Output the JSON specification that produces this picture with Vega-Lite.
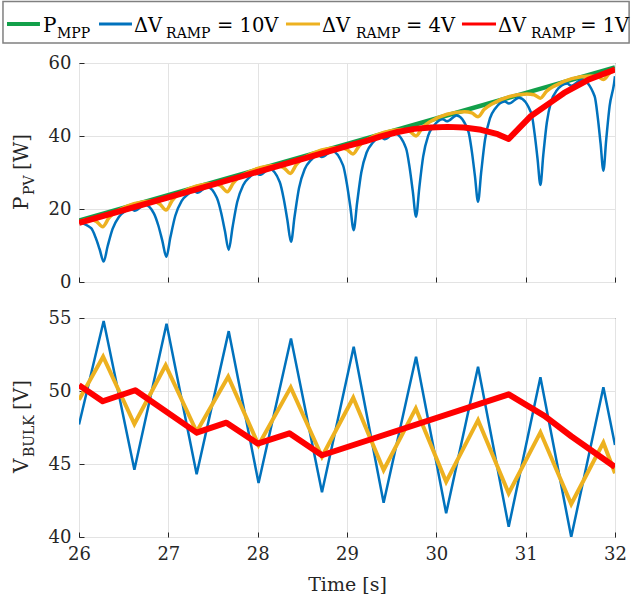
{
  "$schema": "https://vega.github.io/schema/vega-lite/v6.json",
  "padding": {"left": 1, "top": 0, "right": 0, "bottom": 0},
  "background": "white",
  "config": {
    "font": "DejaVu Serif",
    "view": {"stroke": "#262626", "strokeWidth": 1},
    "axis": {
      "labelFont": "DejaVu Serif", "labelFontSize": 18, "labelColor": "#262626",
      "titleFont": "DejaVu Serif", "titleFontSize": 19, "titleFontWeight": "normal", "titleColor": "#262626",
      "gridColor": "#e3e3e3", "gridWidth": 1, "tickColor": "#262626", "tickSize": -5,
      "labelPadding": 13, "domain": false, "labelOverlap": false, "labelFlush": false
    }
  },
  "datasets": {
    "pMpp": [{"t": 26, "v": 16.8}, {"t": 32, "v": 58.8}],
    "pR10": [
      {"t": 26.0, "v": 16.4}, {"t": 26.136, "v": 14.73}, {"t": 26.186, "v": 12.19}, {"t": 26.231, "v": 8.97}, {"t": 26.276, "v": 5.6}, {"t": 26.321, "v": 9.86}, {"t": 26.376, "v": 14.57}, {"t": 26.446, "v": 17.82}, {"t": 26.526, "v": 19.56}, {"t": 26.576, "v": 20.13}, {"t": 26.621, "v": 19.55},
      {"t": 26.738, "v": 21.17}, {"t": 26.838, "v": 18.82}, {"t": 26.888, "v": 15.48}, {"t": 26.933, "v": 11.27}, {"t": 26.978, "v": 6.9}, {"t": 27.023, "v": 12.23}, {"t": 27.078, "v": 18.15}, {"t": 27.148, "v": 22.16}, {"t": 27.228, "v": 24.23}, {"t": 27.278, "v": 25.05}, {"t": 27.323, "v": 24.46},
      {"t": 27.436, "v": 26.05}, {"t": 27.543, "v": 23.06}, {"t": 27.5905, "v": 19.05}, {"t": 27.633, "v": 14.02}, {"t": 27.676, "v": 8.8}, {"t": 27.719, "v": 15.02}, {"t": 27.771, "v": 21.9}, {"t": 27.8375, "v": 26.5}, {"t": 27.9135, "v": 28.81}, {"t": 27.976, "v": 29.93}, {"t": 28.021, "v": 29.35},
      {"t": 28.133, "v": 30.93}, {"t": 28.247, "v": 27.38}, {"t": 28.292, "v": 22.76}, {"t": 28.3325, "v": 16.99}, {"t": 28.373, "v": 11.0}, {"t": 28.4135, "v": 18.0}, {"t": 28.463, "v": 25.75}, {"t": 28.526, "v": 30.89}, {"t": 28.598, "v": 33.42}, {"t": 28.673, "v": 34.81}, {"t": 28.718, "v": 34.23},
      {"t": 28.835, "v": 35.85}, {"t": 28.956, "v": 31.95}, {"t": 28.9985, "v": 26.93}, {"t": 29.0367, "v": 20.69}, {"t": 29.075, "v": 14.2}, {"t": 29.1133, "v": 21.71}, {"t": 29.16, "v": 30.0}, {"t": 29.2195, "v": 35.48}, {"t": 29.2875, "v": 38.13}, {"t": 29.375, "v": 39.73}, {"t": 29.42, "v": 39.14},
      {"t": 29.533, "v": 40.73}, {"t": 29.661, "v": 36.61}, {"t": 29.701, "v": 31.32}, {"t": 29.737, "v": 24.74}, {"t": 29.773, "v": 17.9}, {"t": 29.809, "v": 25.74}, {"t": 29.853, "v": 34.41}, {"t": 29.909, "v": 40.11}, {"t": 29.973, "v": 42.84}, {"t": 30.073, "v": 44.61}, {"t": 30.118, "v": 44.03},
      {"t": 30.227, "v": 45.59}, {"t": 30.358, "v": 41.31}, {"t": 30.397, "v": 35.85}, {"t": 30.432, "v": 29.06}, {"t": 30.467, "v": 22.0}, {"t": 30.502, "v": 30.07}, {"t": 30.545, "v": 38.97}, {"t": 30.6, "v": 44.83}, {"t": 30.662, "v": 47.62}, {"t": 30.767, "v": 49.47}, {"t": 30.812, "v": 48.88},
      {"t": 30.925, "v": 50.48}, {"t": 31.064, "v": 46.19}, {"t": 31.1, "v": 40.65}, {"t": 31.133, "v": 33.76}, {"t": 31.165, "v": 26.6}, {"t": 31.197, "v": 34.73}, {"t": 31.237, "v": 43.71}, {"t": 31.287, "v": 49.59}, {"t": 31.345, "v": 52.37}, {"t": 31.465, "v": 54.36}, {"t": 31.51, "v": 53.77},
      {"t": 31.63, "v": 55.41}, {"t": 31.772, "v": 50.9}, {"t": 31.807, "v": 45.12}, {"t": 31.8385, "v": 37.95}, {"t": 31.87, "v": 30.5}, {"t": 31.9015, "v": 38.94}, {"t": 31.94, "v": 48.25}, {"t": 31.989, "v": 54.34}, {"t": 32.0, "v": 56.4}
    ],
    "pR4": [
      {"t": 26.0, "v": 16.4}, {"t": 26.115, "v": 17.21}, {"t": 26.195, "v": 16.59}, {"t": 26.265, "v": 15.16}, {"t": 26.335, "v": 17.57}, {"t": 26.415, "v": 19.31},
      {"t": 26.824, "v": 22.17}, {"t": 26.904, "v": 21.37}, {"t": 26.974, "v": 19.72}, {"t": 27.044, "v": 22.35}, {"t": 27.124, "v": 24.27},
      {"t": 27.51, "v": 26.97}, {"t": 27.59, "v": 26.26}, {"t": 27.66, "v": 24.72}, {"t": 27.73, "v": 27.24}, {"t": 27.81, "v": 29.07},
      {"t": 28.215, "v": 31.91}, {"t": 28.295, "v": 31.25}, {"t": 28.365, "v": 29.76}, {"t": 28.435, "v": 32.23}, {"t": 28.515, "v": 34.01},
      {"t": 28.917, "v": 36.82}, {"t": 28.997, "v": 36.34}, {"t": 29.067, "v": 35.07}, {"t": 29.137, "v": 37.32}, {"t": 29.217, "v": 38.92},
      {"t": 29.623, "v": 41.76}, {"t": 29.703, "v": 41.28}, {"t": 29.773, "v": 40.01}, {"t": 29.843, "v": 42.26}, {"t": 29.923, "v": 43.86},
      {"t": 30.317, "v": 46.62}, {"t": 30.397, "v": 46.32}, {"t": 30.467, "v": 45.27}, {"t": 30.537, "v": 47.3}, {"t": 30.617, "v": 48.72},
      {"t": 31.014, "v": 51.5}, {"t": 31.094, "v": 51.29}, {"t": 31.164, "v": 50.35}, {"t": 31.234, "v": 52.27}, {"t": 31.314, "v": 53.6},
      {"t": 31.72, "v": 56.44}, {"t": 31.8, "v": 56.32}, {"t": 31.87, "v": 55.49}, {"t": 31.94, "v": 57.3}, {"t": 32.0, "v": 58.2}
    ],
    "pR1": [
      {"t": 26.0, "v": 16.2}, {"t": 27.0, "v": 23.2}, {"t": 28.0, "v": 30.2}, {"t": 29.0, "v": 37.2}, {"t": 29.2, "v": 38.55}, {"t": 29.38, "v": 39.9},
      {"t": 29.567, "v": 41.1}, {"t": 29.754, "v": 41.95}, {"t": 29.94, "v": 42.35}, {"t": 30.127, "v": 42.5}, {"t": 30.31, "v": 42.35}, {"t": 30.5, "v": 41.7},
      {"t": 30.687, "v": 40.5}, {"t": 30.81, "v": 39.2}, {"t": 31.06, "v": 45.5}, {"t": 31.32, "v": 49.9}, {"t": 31.43, "v": 51.8}, {"t": 31.7, "v": 55.4}, {"t": 32.0, "v": 58.2}
    ],
    "vR10": [
      {"t": 26.0, "v": 47.7}, {"t": 26.276, "v": 54.8}, {"t": 26.62, "v": 44.6}, {"t": 26.98, "v": 54.6}, {"t": 27.317, "v": 44.3}, {"t": 27.676, "v": 54.1},
      {"t": 28.01, "v": 43.7}, {"t": 28.373, "v": 53.6}, {"t": 28.72, "v": 43.06}, {"t": 29.075, "v": 53.03}, {"t": 29.41, "v": 42.35}, {"t": 29.773, "v": 52.35},
      {"t": 30.11, "v": 41.62}, {"t": 30.467, "v": 51.66}, {"t": 30.81, "v": 40.7}, {"t": 31.165, "v": 50.94}, {"t": 31.51, "v": 40.0}, {"t": 31.87, "v": 50.25}, {"t": 32.0, "v": 46.3}
    ],
    "vR4": [
      {"t": 26.0, "v": 49.4}, {"t": 26.27, "v": 52.35}, {"t": 26.62, "v": 47.74}, {"t": 26.97, "v": 51.76}, {"t": 27.317, "v": 47.21}, {"t": 27.67, "v": 50.98},
      {"t": 28.01, "v": 46.3}, {"t": 28.37, "v": 50.25}, {"t": 28.72, "v": 45.5}, {"t": 29.07, "v": 49.54}, {"t": 29.41, "v": 44.59}, {"t": 29.77, "v": 48.81},
      {"t": 30.11, "v": 43.79}, {"t": 30.467, "v": 48.0}, {"t": 30.81, "v": 42.99}, {"t": 31.165, "v": 47.17}, {"t": 31.51, "v": 42.26}, {"t": 31.87, "v": 46.46}, {"t": 32.0, "v": 44.36}
    ],
    "vR1": [
      {"t": 26.0, "v": 50.4}, {"t": 26.265, "v": 49.3}, {"t": 26.63, "v": 50.05}, {"t": 27.317, "v": 47.15}, {"t": 27.65, "v": 47.83}, {"t": 28.0, "v": 46.4},
      {"t": 28.355, "v": 47.1}, {"t": 28.72, "v": 45.6}, {"t": 30.81, "v": 49.77}, {"t": 31.21, "v": 48.3}, {"t": 31.51, "v": 46.9}, {"t": 32.0, "v": 44.8}
    ]
  },
  "spacing": 36,
  "bounds": "flush",
  "vconcat": [
    {
      "width": 536,
      "height": 219,
      "layer": [
        {
          "data": {"name": "pMpp"},
          "mark": {"type": "line", "color": "#12A04A", "strokeWidth": 4.5, "clip": true},
          "encoding": {
            "x": {"field": "t", "type": "quantitative", "scale": {"domain": [26, 32], "nice": false},
                  "axis": {"values": [26, 27, 28, 29, 30, 31, 32], "labels": false, "title": null, "grid": true}},
            "y": {"field": "v", "type": "quantitative", "scale": {"domain": [0, 60], "nice": false},
                  "axis": {"values": [0, 20, 40, 60], "title": null, "grid": true}}
          }
        },
        {
          "data": {"name": "pR10"},
          "mark": {"type": "line", "color": "#0072BD", "strokeWidth": 2.5, "interpolate": "monotone", "clip": true},
          "encoding": {"x": {"field": "t", "type": "quantitative"}, "y": {"field": "v", "type": "quantitative"}}
        },
        {
          "data": {"name": "pR4"},
          "mark": {"type": "line", "color": "#EDB120", "strokeWidth": 3.5, "interpolate": "monotone", "clip": true},
          "encoding": {"x": {"field": "t", "type": "quantitative"}, "y": {"field": "v", "type": "quantitative"}}
        },
        {
          "data": {"name": "pR1"},
          "mark": {"type": "line", "color": "#FF0000", "strokeWidth": 6, "strokeJoin": "round", "clip": true},
          "encoding": {"x": {"field": "t", "type": "quantitative"}, "y": {"field": "v", "type": "quantitative"}}
        },
        {
          "data": {"values": [{}]},
          "mark": {"type": "rect", "fill": "white", "stroke": "#808080", "strokeWidth": 1.5},
          "encoding": {"x": {"datum": 25.149}, "x2": {"datum": 32.158}, "y": {"datum": 76.85}, "y2": {"datum": 65.48}}
        },
        {"data": {"values": [{}]}, "mark": {"type": "rule", "color": "#12A04A", "strokeWidth": 4},
         "encoding": {"x": {"datum": 25.194}, "x2": {"datum": 25.563}, "y": {"datum": 70.68}}},
        {"data": {"values": [{}]}, "mark": {"type": "rule", "color": "#0072BD", "strokeWidth": 3},
         "encoding": {"x": {"datum": 26.224}, "x2": {"datum": 26.593}, "y": {"datum": 70.68}}},
        {"data": {"values": [{}]}, "mark": {"type": "rule", "color": "#EDB120", "strokeWidth": 3},
         "encoding": {"x": {"datum": 28.317}, "x2": {"datum": 28.698}, "y": {"datum": 70.68}}},
        {"data": {"values": [{}]}, "mark": {"type": "rule", "color": "#FF0000", "strokeWidth": 3},
         "encoding": {"x": {"datum": 30.287}, "x2": {"datum": 30.668}, "y": {"datum": 70.68}}},
        {"data": {"values": [{}]}, "mark": {"type": "text", "text": "P", "fontSize": 20, "align": "left", "baseline": "alphabetic", "color": "#000000"},
         "encoding": {"x": {"datum": 25.597}, "y": {"datum": 68.49}}},
        {"data": {"values": [{}]}, "mark": {"type": "text", "text": "MPP", "fontSize": 14, "dy": 6, "align": "left", "baseline": "alphabetic", "color": "#000000"},
         "encoding": {"x": {"datum": 25.754}, "y": {"datum": 68.49}}},
        {"data": {"values": [{}]}, "mark": {"type": "text", "text": "ΔV", "fontSize": 19.5, "align": "left", "baseline": "alphabetic", "color": "#000000"},
         "encoding": {"x": {"datum": 26.616}, "y": {"datum": 68.49}}},
        {"data": {"values": [{}]}, "mark": {"type": "text", "text": "RAMP", "fontSize": 14, "dy": 6, "align": "left", "baseline": "alphabetic", "color": "#000000"},
         "encoding": {"x": {"datum": 26.975}, "y": {"datum": 68.49}}},
        {"data": {"values": [{}]}, "mark": {"type": "text", "text": "= 10V", "fontSize": 19.5, "align": "left", "baseline": "alphabetic", "color": "#000000"},
         "encoding": {"x": {"datum": 27.545}, "y": {"datum": 68.49}}},
        {"data": {"values": [{}]}, "mark": {"type": "text", "text": "ΔV", "fontSize": 19.5, "align": "left", "baseline": "alphabetic", "color": "#000000"},
         "encoding": {"x": {"datum": 28.72}, "y": {"datum": 68.49}}},
        {"data": {"values": [{}]}, "mark": {"type": "text", "text": "RAMP", "fontSize": 14, "dy": 6, "align": "left", "baseline": "alphabetic", "color": "#000000"},
         "encoding": {"x": {"datum": 29.1}, "y": {"datum": 68.49}}},
        {"data": {"values": [{}]}, "mark": {"type": "text", "text": "= 4V", "fontSize": 19.5, "align": "left", "baseline": "alphabetic", "color": "#000000"},
         "encoding": {"x": {"datum": 29.66}, "y": {"datum": 68.49}}},
        {"data": {"values": [{}]}, "mark": {"type": "text", "text": "ΔV", "fontSize": 19.5, "align": "left", "baseline": "alphabetic", "color": "#000000"},
         "encoding": {"x": {"datum": 30.69}, "y": {"datum": 68.49}}},
        {"data": {"values": [{}]}, "mark": {"type": "text", "text": "RAMP", "fontSize": 14, "dy": 6, "align": "left", "baseline": "alphabetic", "color": "#000000"},
         "encoding": {"x": {"datum": 31.06}, "y": {"datum": 68.49}}},
        {"data": {"values": [{}]}, "mark": {"type": "text", "text": "= 1V", "fontSize": 19.5, "align": "left", "baseline": "alphabetic", "color": "#000000"},
         "encoding": {"x": {"datum": 31.61}, "y": {"datum": 68.49}}},
        {"data": {"values": [{}]}, "mark": {"type": "text", "text": "P", "fontSize": 20, "angle": 270, "align": "left", "baseline": "alphabetic", "color": "#262626"},
         "encoding": {"x": {"datum": 25.429}, "y": {"datum": 19.73}}},
        {"data": {"values": [{}]}, "mark": {"type": "text", "text": "PV", "fontSize": 14, "angle": 270, "dx": 15, "dy": 6, "align": "left", "baseline": "alphabetic", "color": "#262626"},
         "encoding": {"x": {"datum": 25.429}, "y": {"datum": 19.73}}},
        {"data": {"values": [{}]}, "mark": {"type": "text", "text": "[W]", "fontSize": 20, "angle": 270, "dx": 40, "align": "left", "baseline": "alphabetic", "color": "#262626"},
         "encoding": {"x": {"datum": 25.429}, "y": {"datum": 19.73}}}
      ]
    },
    {
      "width": 536,
      "height": 219,
      "layer": [
        {
          "data": {"name": "vR10"},
          "mark": {"type": "line", "color": "#0072BD", "strokeWidth": 2.5, "clip": true},
          "encoding": {
            "x": {"field": "t", "type": "quantitative", "scale": {"domain": [26, 32], "nice": false},
                  "axis": {"values": [26, 27, 28, 29, 30, 31, 32], "format": "d", "title": "Time [s]", "grid": true, "titlePadding": 12}},
            "y": {"field": "v", "type": "quantitative", "scale": {"domain": [40, 55], "nice": false},
                  "axis": {"values": [40, 45, 50, 55], "title": null, "grid": true}}
          }
        },
        {
          "data": {"name": "vR4"},
          "mark": {"type": "line", "color": "#EDB120", "strokeWidth": 4, "clip": true},
          "encoding": {"x": {"field": "t", "type": "quantitative"}, "y": {"field": "v", "type": "quantitative"}}
        },
        {
          "data": {"name": "vR1"},
          "mark": {"type": "line", "color": "#FF0000", "strokeWidth": 6, "strokeJoin": "round", "clip": true},
          "encoding": {"x": {"field": "t", "type": "quantitative"}, "y": {"field": "v", "type": "quantitative"}}
        },
        {"data": {"values": [{}]}, "mark": {"type": "text", "text": "V", "fontSize": 20, "angle": 270, "align": "left", "baseline": "alphabetic", "color": "#262626"},
         "encoding": {"x": {"datum": 25.429}, "y": {"datum": 44.38}}},
        {"data": {"values": [{}]}, "mark": {"type": "text", "text": "BULK", "fontSize": 14, "angle": 270, "dx": 16, "dy": 6, "align": "left", "baseline": "alphabetic", "color": "#262626"},
         "encoding": {"x": {"datum": 25.429}, "y": {"datum": 44.38}}},
        {"data": {"values": [{}]}, "mark": {"type": "text", "text": "[V]", "fontSize": 20, "angle": 270, "dx": 63, "align": "left", "baseline": "alphabetic", "color": "#262626"},
         "encoding": {"x": {"datum": 25.429}, "y": {"datum": 44.38}}}
      ]
    }
  ]
}
